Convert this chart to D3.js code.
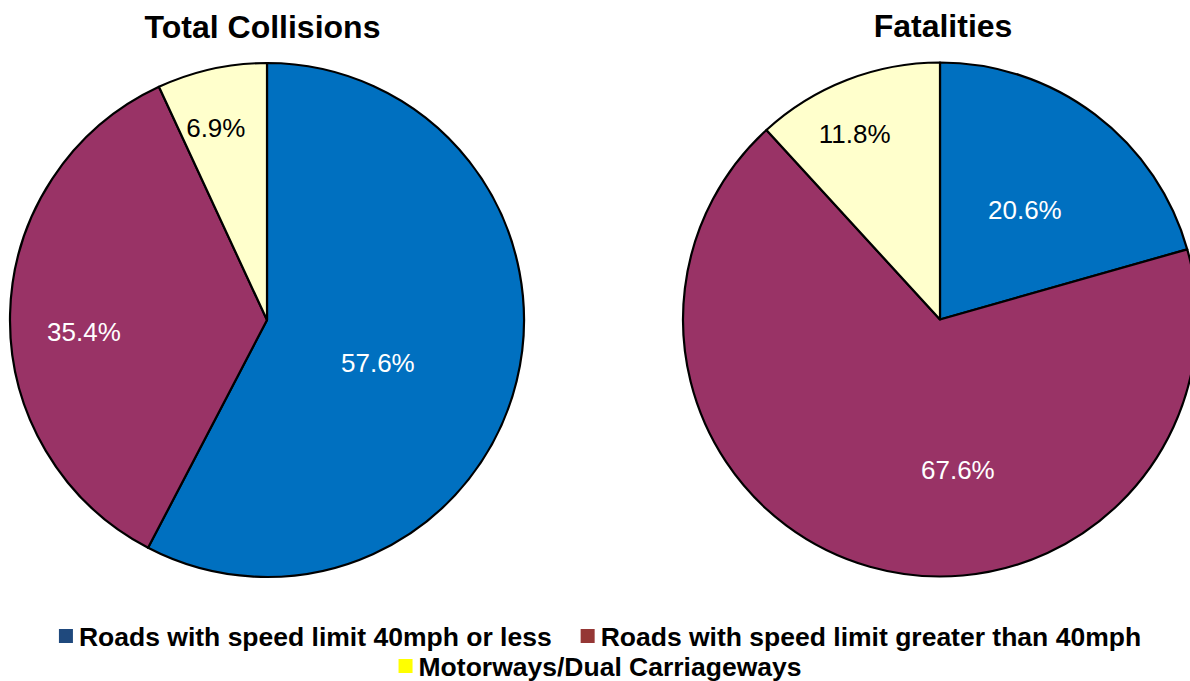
<!DOCTYPE html>
<html>
<head>
<meta charset="utf-8">
<script src="https://cdn.jsdelivr.net/npm/d3@7"></script>
<style>
  html, body { margin: 0; padding: 0; background: #ffffff; }
  svg { display: block; font-family: "Liberation Sans", Arial, sans-serif; }
</style>
</head>
<body>
<svg id="chart" width="1190" height="681"></svg>
<script>
// Road categories and their shares (%) of collisions and fatalities
const categories = [
  "Roads with speed limit 40mph or less",
  "Roads with speed limit greater than 40mph",
  "Motorways/Dual Carriageways"
];
const chartTitles = ["Total Collisions", "Fatalities"];
const totalCollisions = [57.6, 35.4, 6.9];
const fatalities = [20.6, 67.6, 11.8];

// Styling
const sliceColors = ["#0070C0", "#993366", "#FFFFCC"];
const swatchColors = ["#1F497D", "#953735", "#FFFF00"];
const labelColors = ["#ffffff", "#ffffff", "#000000"];

// Layout of each pie: centre, radius, title position and label placement
// (label placement: fraction of radius and angular nudge in degrees)
const layouts = [
  { cx: 267, cy: 320, r: 257, titleX: 262.5, titleY: 38,
    place: [{ f: 0.463, da: 7.5 }, { f: 0.714, da: -5.2 }, { f: 0.773, da: -2.5 }] },
  { cx: 940, cy: 319.5, r: 257, titleX: 943, titleY: 37,
    place: [{ f: 0.539, da: 0.7 }, { f: 0.590, da: -22.6 }, { f: 0.794, da: -3.5 }] }
];

const svg = d3.select("#chart");
const pie = d3.pie().sort(null).value(d => d.value);

[totalCollisions, fatalities].forEach((values, ci) => {
  const L = layouts[ci];
  const data = values.map((v, i) => ({ value: v, i }));
  const arcs = pie(data);
  const arc = d3.arc().innerRadius(0).outerRadius(L.r);

  const g = svg.append("g").attr("transform", `translate(${L.cx},${L.cy})`);

  g.selectAll("path.slice")
    .data(arcs)
    .join("path")
    .attr("class", "slice")
    .attr("d", arc)
    .attr("fill", d => sliceColors[d.data.i])
    .attr("stroke", "#000")
    .attr("stroke-width", 2.2)
    .attr("stroke-linejoin", "round");

  g.selectAll("text.val")
    .data(arcs)
    .join("text")
    .attr("class", "val")
    .attr("x", d => {
      const p = L.place[d.data.i];
      const a = (d.startAngle + d.endAngle) / 2 + p.da * Math.PI / 180;
      return Math.sin(a) * L.r * p.f;
    })
    .attr("y", d => {
      const p = L.place[d.data.i];
      const a = (d.startAngle + d.endAngle) / 2 + p.da * Math.PI / 180;
      return -Math.cos(a) * L.r * p.f;
    })
    .attr("text-anchor", "middle")
    .attr("dominant-baseline", "central")
    .attr("font-size", 26)
    .attr("fill", d => labelColors[d.data.i])
    .text(d => d.data.value.toFixed(1) + "%");

  svg.append("text")
    .attr("x", L.titleX)
    .attr("y", L.titleY)
    .attr("text-anchor", "middle")
    .attr("font-size", 32)
    .attr("font-weight", "bold")
    .attr("fill", "#000")
    .text(chartTitles[ci]);
});

// Legend: two centred rows
const legendRows = [[0, 1], [2]];
const rowBaselines = [646, 676];
const legendCenter = 600;
const sw = 14, swGap = 6, itemGap = 29;

legendRows.forEach((row, ri) => {
  const rg = svg.append("g");
  let x = 0;
  row.forEach(ci => {
    rg.append("rect")
      .attr("x", x)
      .attr("y", rowBaselines[ri] - 17)
      .attr("width", sw)
      .attr("height", sw)
      .attr("fill", swatchColors[ci]);
    const t = rg.append("text")
      .attr("x", x + sw + swGap)
      .attr("y", rowBaselines[ri])
      .attr("font-size", 26.5)
      .attr("font-weight", "bold")
      .attr("fill", "#000")
      .text(categories[ci]);
    x += sw + swGap + t.node().getComputedTextLength() + itemGap;
  });
  const w = x - itemGap;
  rg.attr("transform", `translate(${legendCenter - w / 2},0)`);
});
</script>
</body>
</html>
